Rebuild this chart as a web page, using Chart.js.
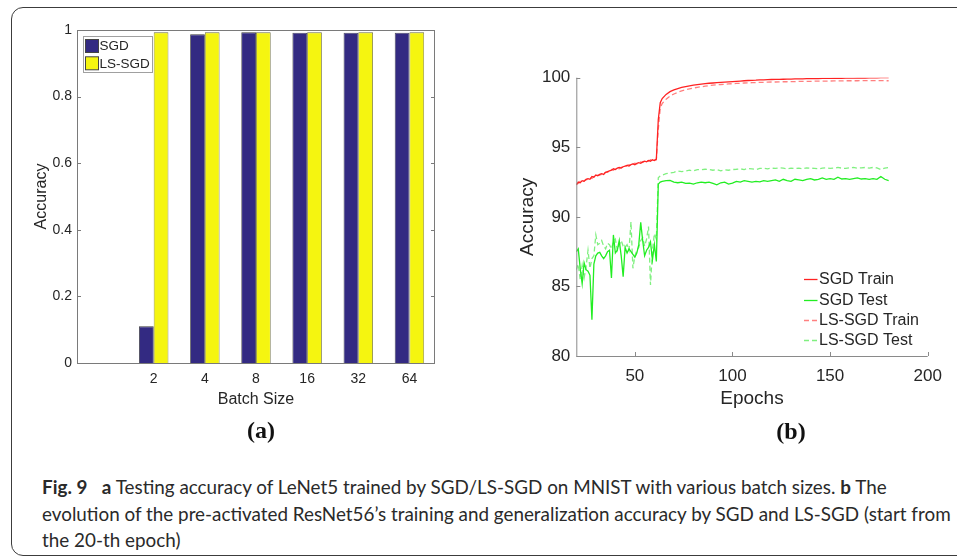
<!DOCTYPE html>
<html><head><meta charset="utf-8">
<script src="https://cdn.jsdelivr.net/npm/chart.js@4/dist/chart.umd.min.js"></script>
<style>
html,body{margin:0;padding:0;background:#fff;width:957px;height:559px;overflow:hidden;position:relative;}
#frame{position:absolute;left:11px;top:7px;width:990px;height:549px;border:1.4px solid #3c3c3c;border-radius:12px;box-sizing:border-box;}
#ca{position:absolute;left:0;top:0;}
#cb{position:absolute;left:480px;top:0;}
.sub{position:absolute;font-family:"Liberation Serif";font-weight:bold;font-size:24px;color:#111;transform:translate(-50%,-50%);line-height:1;}
.cap{position:absolute;left:42px;font-family:Lato;color:#2a2a2a;font-size:17px;white-space:nowrap;line-height:1;transform:translateY(-50%);}
</style></head>
<body>
<div id="frame"></div>
<canvas id="ca" width="480" height="420"></canvas>
<canvas id="cb" width="477" height="420"></canvas>
<div class="sub" style="left:261px;top:430px;">(a)</div>
<div class="sub" style="left:791px;top:431px;">(b)</div>
<div class="cap" id="l1" style="top:487px;"><b>Fig. 9</b>&nbsp;&nbsp;&nbsp;<b>a</b> Testing accuracy of LeNet5 trained by SGD/LS-SGD on MNIST with various batch sizes. <b>b</b> The</div>
<div class="cap" id="l2" style="top:514px;">evolution of the pre-activated ResNet56’s training and generalization accuracy by SGD and LS-SGD (start from</div>
<div class="cap" id="l3" style="top:540px;">the 20-th epoch)</div>
<script>
// ---------- data (a) ----------
const batchLabels = ['', '2', '4', '8', '16', '32', '64'];
const sgdBatchAcc = [null, 0.11, 0.987, 0.993, 0.992, 0.992, 0.992];
const lssgdBatchAcc = [null, 0.993, 0.993, 0.993, 0.993, 0.993, 0.993];
const accBarTicks = [0, 0.2, 0.4, 0.6, 0.8, 1];

// ---------- data (b) ----------
const epochs = [20,21,22,23,24,25,26,27,28,29,30,31,32,33,34,35,36,37,38,39,40,41,42,43,44,45,46,47,48,49,50,51,52,53,54,55,56,57,58,59,60,61,62,63,64,
 66,68,70,72,74,76,78,80,82,84,86,88,90,92,94,96,98,100,102,104,106,108,110,112,114,116,118,120,122,124,126,128,130,132,134,136,138,140,142,144,146,148,150,152,154,156,158,160,162,164,166,168,170,172,174,176,178,180];
const sgdTrain = [92.3,92.5,92.45,92.6,92.55,92.7,92.75,92.7,92.9,92.85,
 93.0,92.95,93.05,93.1,93.05,93.2,93.25,93.3,93.35,93.45,
 93.4,93.5,93.55,93.5,93.6,93.65,93.7,93.65,93.75,93.8,
 93.75,93.85,93.9,93.85,93.95,94.0,93.95,94.05,94.0,94.1,
 94.05,94.15,97.0,98.2,98.5,
 98.8,99.0,99.12,99.22,99.3,99.36,99.42,99.46,99.5,99.54,
 99.57,99.6,99.62,99.64,99.66,99.68,99.7,99.72,99.74,99.76,
 99.78,99.8,99.81,99.82,99.84,99.85,99.86,99.87,99.88,99.88,
 99.89,99.9,99.9,99.91,99.92,99.92,99.93,99.93,99.94,99.94,
 99.95,99.95,99.95,99.96,99.96,99.96,99.97,99.97,99.97,99.98,
 99.98,99.98,99.99,99.99,99.99,100.0,100.0,100.0];
const sgdTest = [87.5,87.7,86.3,85.2,86.7,86.2,86.1,85.8,82.6,86.6,
 87.2,87.4,87.45,87.2,87.0,87.2,87.5,87.6,85.6,88.7,
 87.4,87.6,88.3,87.2,85.7,87.8,87.4,87.7,87.5,87.3,
 87.1,87.4,88.0,89.6,88.3,87.2,87.6,87.8,88.2,86.9,
 88.0,86.8,92.35,92.5,92.55,
 92.6,92.62,92.5,92.45,92.5,92.4,92.42,92.35,92.45,92.5,
 92.45,92.5,92.4,92.3,92.45,92.5,92.35,92.42,92.55,92.5,
 92.6,92.55,92.5,92.55,92.52,92.6,92.55,92.6,92.65,92.55,
 92.7,92.6,92.55,92.7,92.65,92.6,92.7,92.75,92.65,92.7,
 92.8,92.7,92.75,92.7,92.85,92.72,92.75,92.7,92.75,92.8,
 92.72,92.75,92.7,92.75,92.7,92.9,92.7,92.6];
const lsTrain = [92.35,92.4,92.55,92.5,92.6,92.65,92.7,92.8,92.75,92.9,
 92.95,93.0,93.0,93.05,93.15,93.2,93.2,93.3,93.4,93.35,
 93.45,93.5,93.45,93.55,93.6,93.6,93.7,93.75,93.7,93.8,
 93.85,93.8,93.9,93.95,93.9,94.0,94.05,94.0,94.1,94.05,
 94.1,94.1,96.3,97.8,98.15,
 98.45,98.68,98.83,98.95,99.05,99.13,99.2,99.26,99.31,99.35,
 99.39,99.43,99.46,99.49,99.51,99.53,99.55,99.57,99.59,99.6,
 99.62,99.63,99.64,99.65,99.66,99.67,99.68,99.69,99.69,99.7,
 99.71,99.71,99.72,99.72,99.73,99.73,99.74,99.74,99.75,99.75,
 99.75,99.76,99.76,99.77,99.77,99.77,99.78,99.78,99.78,99.78,
 99.79,99.79,99.79,99.79,99.8,99.79,99.78,99.78];
const lsTest = [86.2,86.6,85.5,86.5,85.6,86.4,87.6,86.3,87.0,87.2,
 88.7,88.0,88.1,88.3,87.9,87.7,88.1,88.0,87.7,88.2,
 88.4,87.6,88.0,88.3,87.9,87.8,88.0,87.6,89.65,86.3,
 87.2,87.6,87.8,88.3,88.5,87.9,88.4,89.3,85.1,87.6,
 88.8,88.4,92.8,92.95,93.0,
 93.1,93.15,93.2,93.3,93.25,93.3,93.35,93.3,93.4,93.38,
 93.42,93.4,93.35,93.4,93.3,93.38,93.35,93.4,93.42,93.45,
 93.4,93.48,93.45,93.4,93.48,93.5,93.45,93.5,93.48,93.52,
 93.5,93.45,93.5,93.48,93.5,93.45,93.52,93.5,93.48,93.45,
 93.5,93.52,93.48,93.5,93.55,93.5,93.48,93.52,93.55,93.5,
 93.52,93.55,93.5,93.55,93.52,93.4,93.5,93.55];
const epochTicks = [50, 100, 150, 200];
const accLineTicks = [80, 85, 90, 95, 100];

// ---------- fit caption ----------
(function(){
  const l2 = document.getElementById('l2');
  const w = l2.getBoundingClientRect().width;
  const fs = 17 * 909 / w;
  document.querySelectorAll('.cap').forEach(e => e.style.fontSize = fs + 'px');
})();

Chart.defaults.font.family = 'Liberation Sans';
Chart.defaults.color = '#262626';
Chart.defaults.animation = false;

const axesDecor = {
  id: 'axesDecor',
  afterDatasetsDraw(chart, args, o) {
    const {ctx, chartArea: a, scales: {x, y}} = chart;
    ctx.save();
    ctx.lineWidth = 1;
    ctx.strokeStyle = o.color;
    ctx.beginPath();
    ctx.moveTo(a.left + 0.5, a.top);
    ctx.lineTo(a.left + 0.5, a.bottom + 0.5);
    ctx.lineTo(a.right, a.bottom + 0.5);
    if (o.box) {
      ctx.moveTo(a.left, a.top + 0.5);
      ctx.lineTo(a.right - 0.5, a.top + 0.5);
      ctx.lineTo(a.right - 0.5, a.bottom);
    }
    ctx.stroke();
    ctx.beginPath();
    y.ticks.forEach(t => {
      const py = Math.round(y.getPixelForValue(t.value)) + 0.5;
      ctx.moveTo(a.left, py); ctx.lineTo(a.left + o.len, py);
      if (o.box) { ctx.moveTo(a.right, py); ctx.lineTo(a.right - o.len, py); }
    });
    if (o.xticks) x.ticks.forEach(t => {
      const px = Math.round(x.getPixelForValue(t.value)) + 0.5;
      ctx.moveTo(px, a.bottom); ctx.lineTo(px, a.bottom - o.len);
    });
    ctx.stroke();
    ctx.restore();
  }
};

const legendA = {
  id: 'legendA',
  afterDraw(chart) {
    const ctx = chart.ctx;
    ctx.save();
    ctx.fillStyle = '#fff';
    ctx.strokeStyle = '#a0a0a0';
    ctx.lineWidth = 1;
    ctx.fillRect(83.5, 36.5, 69, 36);
    ctx.strokeRect(83.5, 36.5, 69, 36);
    ctx.font = '13.5px "Liberation Sans"';
    ctx.textBaseline = 'middle';
    chart.data.datasets.forEach((ds, i) => {
      const yy = 39.5 + 17.3 * i;
      ctx.fillStyle = ds.backgroundColor;
      ctx.fillRect(85.5, yy, 13, 13);
      ctx.strokeStyle = '#444';
      ctx.strokeRect(85.5, yy, 13, 13);
      ctx.fillStyle = '#262626';
      ctx.fillText(ds.label, 99.5, yy + 7);
    });
    ctx.restore();
  }
};

const legendB = {
  id: 'legendB',
  afterDraw(chart) {
    const ctx = chart.ctx;
    ctx.save();
    ctx.font = '16px "Liberation Sans"';
    ctx.textBaseline = 'middle';
    chart.data.datasets.forEach((ds, i) => {
      const yy = Math.round(279.3 + 20.3 * i) + 0.5;
      ctx.strokeStyle = ds.borderColor;
      ctx.lineWidth = ds.borderWidth;
      ctx.setLineDash(ds.borderDash || []);
      ctx.beginPath();
      ctx.moveTo(324, yy); ctx.lineTo(337.5, yy);
      ctx.stroke();
      ctx.setLineDash([]);
      ctx.fillStyle = '#262626';
      ctx.fillText(ds.label, 339, yy);
    });
    ctx.restore();
  }
};

new Chart(document.getElementById('ca'), {
  type: 'bar',
  data: {
    labels: batchLabels,
    datasets: [
      {label: 'SGD', data: sgdBatchAcc, backgroundColor: '#332a82', borderColor: '#3a3a3a', borderWidth: 0.8},
      {label: 'LS-SGD', data: lssgdBatchAcc, backgroundColor: '#f5f510', borderColor: '#6a6a40', borderWidth: 0.8}
    ]
  },
  options: {
    responsive: false,
    layout: {padding: {top: 30, right: 45, left: 0, bottom: 0}},
    datasets: {bar: {categoryPercentage: 0.575, barPercentage: 1.0}},
    plugins: {legend: {display: false}, tooltip: {enabled: false}, axesDecor: {color: '#7a7a7a', box: true, len: 4, xticks: false}},
    scales: {
      x: {
        grid: {display: false, drawTicks: false}, border: {display: false},
        ticks: {font: {size: 14}, padding: 8, autoSkip: false, maxRotation: 0},
        title: {display: true, text: 'Batch Size', font: {size: 16}, padding: {top: 0, bottom: 11}},
        afterFit(s) { s.height = 57; }
      },
      y: {
        min: 0, max: 1,
        afterBuildTicks(s) { s.ticks = accBarTicks.map(v => ({value: v})); },
        grid: {display: false, drawTicks: false}, border: {display: false},
        ticks: {font: {size: 14}, padding: 5, callback: v => String(v)},
        title: {display: true, text: 'Accuracy', font: {size: 16}, padding: {top: 32, bottom: 0}},
        afterFit(s) { s.width = 77; }
      }
    }
  },
  plugins: [axesDecor, legendA]
});

const pts = arr => epochs.map((e, i) => ({x: e, y: arr[i]}));
new Chart(document.getElementById('cb'), {
  type: 'line',
  data: {
    datasets: [
      {label: 'SGD Train', data: pts(sgdTrain), borderColor: '#ff2222', borderWidth: 1.3},
      {label: 'SGD Test', data: pts(sgdTest), borderColor: '#22ee22', borderWidth: 1.3},
      {label: 'LS-SGD Train', data: pts(lsTrain), borderColor: '#ff8080', borderWidth: 1.3, borderDash: [5, 3]},
      {label: 'LS-SGD Test', data: pts(lsTest), borderColor: '#80f080', borderWidth: 1.3, borderDash: [5, 3]}
    ]
  },
  options: {
    responsive: false,
    layout: {padding: {top: 77.7, right: 29.3, left: 0, bottom: 0}},
    elements: {point: {radius: 0}, line: {tension: 0}},
    plugins: {legend: {display: false}, tooltip: {enabled: false}, axesDecor: {color: '#8a8a8a', box: false, len: 4, xticks: true}},
    scales: {
      x: {
        type: 'linear', min: 20, max: 200,
        afterBuildTicks(s) { s.ticks = epochTicks.map(v => ({value: v})); },
        grid: {display: false, drawTicks: false}, border: {display: false},
        ticks: {font: {size: 17}, padding: 10, maxRotation: 0},
        title: {display: true, text: 'Epochs', font: {size: 19}, padding: {top: 0, bottom: 10}},
        afterFit(s) { s.height = 64; }
      },
      y: {
        min: 80, max: 100,
        afterBuildTicks(s) { s.ticks = accLineTicks.map(v => ({value: v})); },
        grid: {display: false, drawTicks: false}, border: {display: false},
        ticks: {font: {size: 17}, padding: 6},
        title: {display: true, text: 'Accuracy', font: {size: 19}, padding: {top: 36, bottom: 0}},
        afterFit(s) { s.width = 96.3; }
      }
    }
  },
  plugins: [axesDecor, legendB]
});
</script>
</body></html>
